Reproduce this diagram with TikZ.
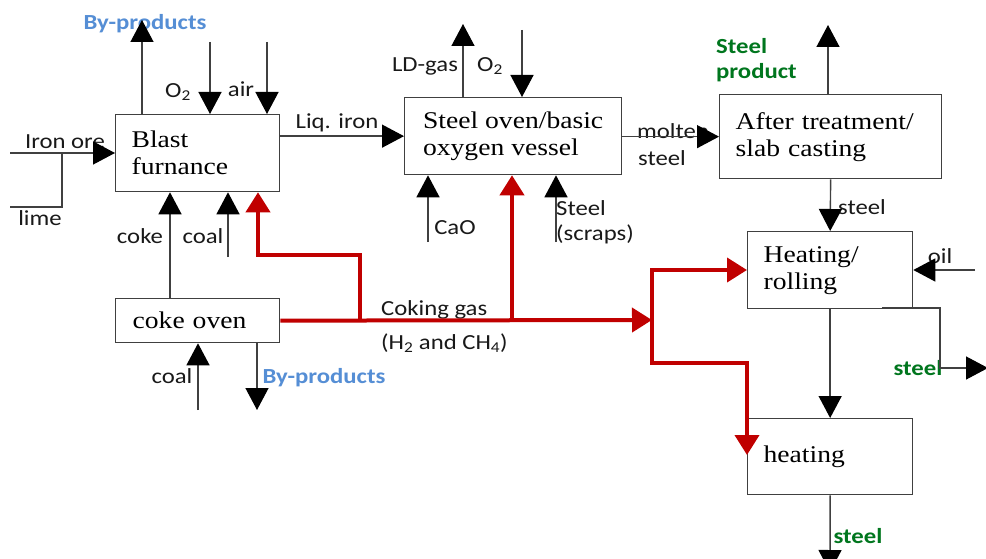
\documentclass[tikz,border=0pt]{standalone}
\usepackage{fontspec}
\usetikzlibrary{arrows.meta}
\newfontfamily\serfont{Liberation Serif}[FakeStretch=1.15]
\newfontfamily\labfont{Carlito}[FakeStretch=1.15]
\definecolor{bpblue}{RGB}{85,142,213}
\definecolor{stgreen}{RGB}{0,118,30}
\definecolor{redgas}{RGB}{192,0,0}
\begin{document}
\begin{tikzpicture}[x=1pt,y=-1pt,
 box/.style={draw=black!75, line width=1.3pt, anchor=north west, align=left, inner xsep=16pt, inner ysep=0pt, font=\serfont\fontsize{24}{27}\selectfont},
 arr/.style={draw=black!75, line width=1.4pt, -{Triangle[length=22pt,width=23pt,color=black]}},
 ln/.style={draw=black!75, line width=1.4pt},
 redarr/.style={draw=redgas, line width=4pt, -{Triangle[length=20pt,width=24pt]}},
 lab/.style={font=\labfont\fontsize{21.5}{25}\selectfont, text=black!90, inner sep=0pt},
 blab/.style={font=\labfont\bfseries\fontsize{21.5}{25}\selectfont, text=bpblue, inner sep=0pt},
 glab/.style={font=\labfont\bfseries\fontsize{21.5}{25}\selectfont, text=stgreen, inner sep=0pt}
]
\fill[white] (0,0) rectangle (986,559);
\useasboundingbox (0,0) rectangle (986,559);

% boxes
\node[box, text width=132pt, minimum height=77pt] (bf) at (115,114) {Blast\\furnance};
\node[box, minimum height=77pt, minimum width=217pt, inner xsep=0pt] (so) at (404,97) {Steel oven/basic\\oxygen vessel};
\node[box, text width=190pt, minimum height=84pt] (at) at (719,94) {After treatment/\\slab casting};
\node[box, text width=133pt, minimum height=77pt] (hr) at (747,231) {Heating/\\rolling};
\node[box, minimum height=44pt, inner xsep=17pt, text width=130pt] (co) at (115,298) {coke oven};
\node[box, text width=133pt, minimum height=76pt] (ht) at (747,418) {heating};

% labels
\node[blab] (lbp1) at (145,24) {By-products};
\node[lab] (lo2a) at (178,92) {O\textsubscript{2}};
\node[lab] (lair) at (241,89) {air};
\node[lab] (liron) at (65,142) {Iron ore};
\node[lab] (llime) at (40,218) {lime};
\node[lab] (lcoke) at (140,236) {coke};
\node[lab] (lcoal1) at (203,236) {coal};
\node[lab] (lliq) at (337,123) {Liq. iron};
\node[lab] (lld) at (425,66) {LD-gas};
\node[lab] (lo2b) at (490,66) {O\textsubscript{2}};
\node[lab] (lcao) at (455,228) {CaO};
\node[lab, anchor=north west, align=left] (lscr) at (556,200) {Steel\\(scraps)};
\node[lab, anchor=west] (lmol) at (637,131) {molten};
\node[lab] (lmst) at (662,158) {steel};
\node[glab, anchor=north west, align=left] (lprod) at (716,38) {Steel\\product};
\node[lab] (lst1) at (862,207) {steel};
\node[lab] (loil) at (940,256) {oil};
\node[glab] (lst2) at (918,368) {steel};
\node[glab] (lst3) at (858,536) {steel};
\node[lab] (lcoal2) at (172,376) {coal};
\node[blab] (lbp2) at (324,378) {By-products};
\node[lab, anchor=west] (lcg) at (381,310) {Coking gas};
\node[lab, anchor=west] (lh2) at (381,343) {(H\textsubscript{2} and CH\textsubscript{4})};

% coordinates
\coordinate (bpT) at (142,20);
\coordinate (o2a) at (210,42);
\coordinate (aira) at (267,42);
\coordinate (ioS) at (10,153);
\coordinate (limeS) at (10,207);
\coordinate (limeC) at (62,207);
\coordinate (cokeX) at (170,0);
\coordinate (coal1) at (228,257);
\coordinate (ldT) at (463,24);
\coordinate (o2b) at (522,30);
\coordinate (caoS) at (428,242);
\coordinate (scrS) at (556,242);
\coordinate (prodT) at (828,25);
\coordinate (oilS) at (975,270);
\coordinate (stA) at (882,308);
\coordinate (stB) at (940,308);
\coordinate (stC) at (940,368);
\coordinate (stD) at (988,368);
\coordinate (botT) at (830,572);
\coordinate (coal2) at (198,410);
\coordinate (bp2T) at (257,410);
\coordinate (split) at (652,320);
\coordinate (rb1) at (360,320);
\coordinate (rb1t) at (360,255);
\coordinate (rb1l) at (258,255);
\coordinate (rb2) at (512,320);
\coordinate (rvt) at (652,270);
\coordinate (rvb) at (652,363);
\coordinate (rtip) at (747,455);

% black connectors
\draw[arr] (bf.north -| bpT) -- (bpT);
\draw[arr] (o2a) -- (o2a |- bf.north);
\draw[arr] (aira) -- (aira |- bf.north);
\draw[arr] (ioS) -- (ioS -| bf.west);
\draw[ln] (limeS) -- (limeC) -- (limeC |- ioS);
\draw[arr] (co.north -| cokeX) -- (bf.south -| cokeX);
\draw[arr] (coal1) -- (coal1 |- bf.south);
\draw[arr] (bf.east |- so.west) -- (so.west);
\draw[arr] (so.north -| ldT) -- (ldT);
\draw[arr] (o2b) -- (o2b |- so.north);
\draw[arr] (caoS) -- (caoS |- so.south);
\draw[arr] (scrS) -- (scrS |- so.south);
\draw[arr] (so.east |- at.west) -- (at.west);
\draw[arr] (at.north -| prodT) -- (prodT);
\draw[arr] (at.south) -- (hr.north);
\draw[arr] (oilS) -- (oilS -| hr.east);
\draw[arr] (stA) -- (stB) -- (stC) -- (stD);
\draw[arr] (hr.south) -- (ht.north);
\draw[arr] (ht.south) -- (botT);
\draw[arr] (coal2) -- (coal2 |- co.south);
\draw[arr] (co.south -| bp2T) -- (bp2T);

% red connectors
\draw[redarr] (co.east) -- (split);
\draw[redarr] (rb1) -- (rb1t) -- (rb1l) -- (rb1l |- bf.south);
\draw[redarr] (rb2) -- (rb2 |- so.south);
\draw[redarr] (rvb) -- (rvt) -- (rvt -| hr.west);
\draw[redarr] (rvt) -- (rvb) -- (rvb -| rtip) -- (rtip);
\end{tikzpicture}
\end{document}
